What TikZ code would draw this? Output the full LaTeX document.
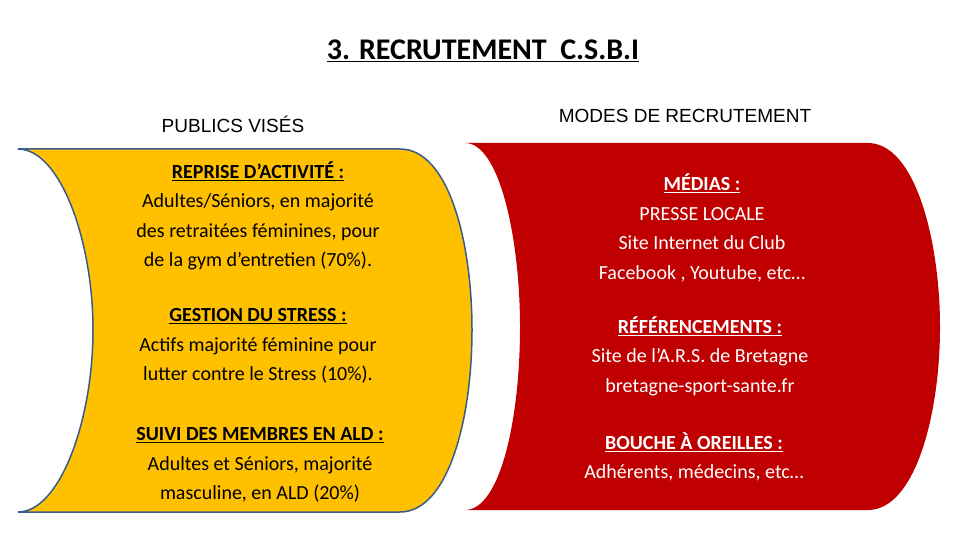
\documentclass[tikz,border=0pt]{standalone}
\usepackage{fontspec}
\setmainfont{Carlito}
\newfontfamily\arialfont{Liberation Sans}
\usetikzlibrary{positioning}
\definecolor{goldfill}{RGB}{255,192,0}
\definecolor{redfill}{RGB}{192,0,0}
\definecolor{blueline}{RGB}{56,93,138}
\tikzset{
  block/.style={align=center, font=\fontsize{20}{29.5}\selectfont, inner sep=0pt},
  colhead/.style={font=\arialfont\fontsize{19}{22}\selectfont, inner sep=0pt}
}
\begin{document}
\begin{tikzpicture}[x=1pt, y=-1pt]
  \useasboundingbox (0,0) rectangle (960,540);
  % Title
  \node[font=\bfseries\fontsize{30}{34}\selectfont] (title) at (483,51) {\underline{3. RECRUTEMENT\ \ C.S.B.I}};
  \node[colhead] (lefthead) at (233,124) {PUBLICS VISÉS};
  \node[colhead] (righthead) at (685,116) {MODES DE RECRUTEMENT};

  % Red curved panel
  \fill[redfill] (465,143) -- (868,143) .. controls (915,143) and (940,240) .. (940,327)
    .. controls (940,415) and (915,510) .. (868,510) -- (465,510)
    .. controls (500,510) and (520,420) .. (520,327)
    .. controls (520,240) and (500,143) .. (465,143) -- cycle;

  % Yellow curved panel
  \filldraw[fill=goldfill, draw=blueline, line width=1.5pt] (18,149) -- (400,149)
    .. controls (448,149) and (472,240) .. (472,330)
    .. controls (472,420) and (448,512) .. (400,512) -- (18,512)
    .. controls (60,512) and (93,420) .. (93,330)
    .. controls (93,240) and (60,149) .. (18,149) -- cycle;

  % Left texts
  \node[block] (reprise) at (258,216) {\textbf{\underline{REPRISE D’ACTIVITÉ :}}\\
    Adultes/Séniors, en majorité\\ des retraitées féminines, pour\\ de la gym d’entretien (70\%).};
  \node[block] (stress) at (258,346) {\textbf{\underline{GESTION DU STRESS :}}\\
    Actifs majorité féminine pour\\ lutter contre le Stress (10\%).};
  \node[block] (suivi) at (260,465) {\textbf{\underline{SUIVI\ DES MEMBRES EN ALD :}}\\
    Adultes et Séniors, majorité\\ masculine, en ALD (20\%)};

  % Right texts
  \node[block, text=white] (medias) at (702,228) {\textbf{\underline{MÉDIAS :}}\\
    PRESSE LOCALE\\ Site Internet du Club\\ Facebook , Youtube, etc…};
  \node[block, text=white] (refs) at (700,356) {\textbf{\underline{RÉFÉRENCEMENTS :}}\\
    Site de l’A.R.S. de Bretagne\\ bretagne-sport-sante.fr};
  \node[block, text=white] (bouche) at (694,457) {\textbf{\underline{BOUCHE À OREILLES :}}\\
    Adhérents, médecins, etc…};
\end{tikzpicture}
\end{document}
